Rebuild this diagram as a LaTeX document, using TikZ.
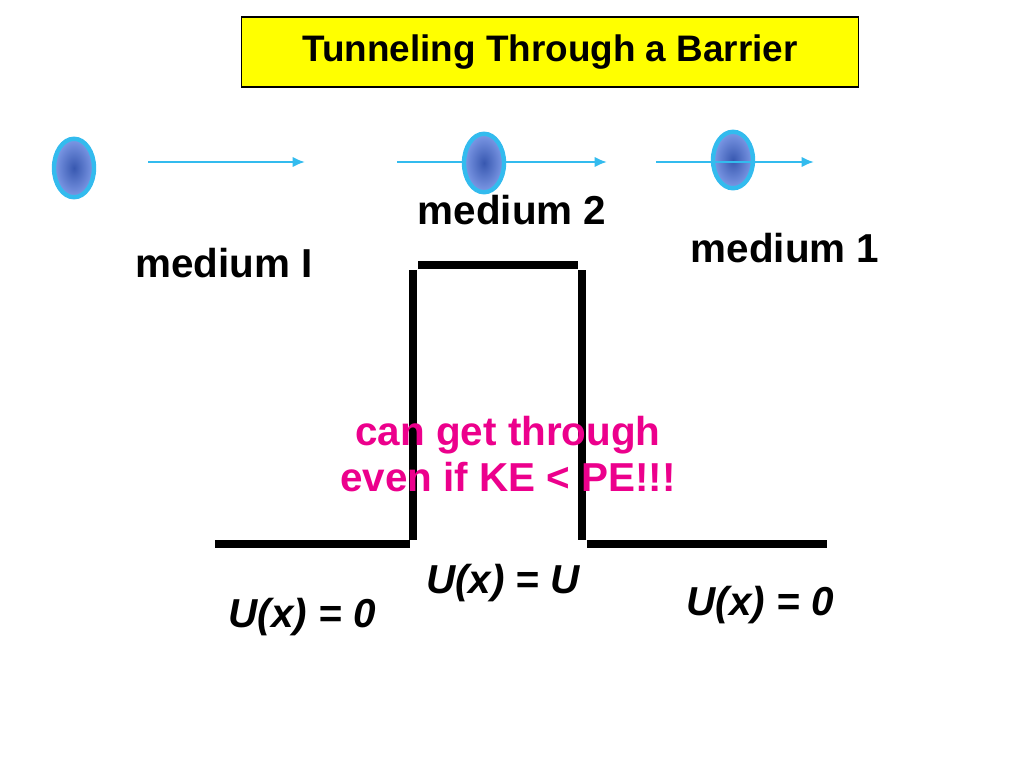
\documentclass[tikz,border=0pt]{standalone}
\usepackage{fontspec}
\setmainfont{Liberation Sans}
\usetikzlibrary{arrows.meta}
\definecolor{skyline}{RGB}{51,187,238}
\definecolor{ballblue}{RGB}{70,110,220}
\definecolor{titleyellow}{RGB}{255,255,0}
\tikzset{
  ball/.style={ellipse, minimum width=42\pxu, minimum height=60\pxu, draw=skyline, line width=2.5pt,
    inner color=ballblue!80!black, outer color=ballblue!70!white},
  motion/.style={draw=skyline, line width=1.6pt, -{Latex[length=7pt,width=6pt]}},
  wall/.style={line width=4.5pt, black},
  label/.style={font=\fontsize{23}{26}\selectfont\bfseries},
  potential/.style={font=\fontsize{23}{26}\selectfont\bfseries\itshape},
}
\newcommand{\pxu}{pt}
\usetikzlibrary{shapes.geometric}
\begin{document}
\begin{tikzpicture}[x=0.02cm, y=-0.02cm]
        \useasboundingbox (0,0) rectangle (1024,768);
        % title
        \node[draw=black, fill=titleyellow, line width=1pt, minimum width=617*0.02cm, minimum height=70*0.02cm,
          font=\fontsize{21}{24}\selectfont\bfseries] (title) at (550,52) {Tunneling Through a Barrier};
        % arrows and balls
        \coordinate (a1s) at (148,162); \coordinate (a1e) at (305,162);
        \coordinate (a2s) at (397,162); \coordinate (a2e) at (607,162);
        \coordinate (a3s) at (656,162); \coordinate (a3e) at (814,162);
        \draw[motion] (a1s) -- (a1e);
        \draw[motion] (a2s) -- (a2e);
        \node[ball, minimum width=0.8cm, minimum height=1.17cm] (ball1) at (74,168) {};
        \node[ball, minimum width=0.8cm, minimum height=1.17cm] (ball2) at (484,163) {};
        \node[ball, minimum width=0.8cm, minimum height=1.13cm] (ball3) at (733,160) {};
        \draw[motion] (a3s) -- (a3e);
        % medium labels
        \node[label] (medI) at (224,263) {medium I};
        \node[label] (med2) at (512,210) {medium 2};
        \node[label] (med1) at (785,248) {medium 1};
        % barrier
        \draw[wall] (215,544) -- (410,544);
        \draw[wall] (413,270) -- (413,540);
        \draw[wall] (418,265) -- (578,265);
        \draw[wall] (582,270) -- (582,540);
        \draw[wall] (587,544) -- (827,544);
        % note
        \node[font=\fontsize{23}{26}\selectfont\bfseries, text=magenta, align=center] (note) at (508,454)
          {can get through\\ even if KE {\normalfont\bfseries <} PE!!!};
        % potentials
        \node[potential] (uleft) at (302,617) {U(x) = 0};
        \node[potential] (umid) at (503,583) {U(x) = U};
        \node[potential] (uright) at (760,605) {U(x) = 0};
\end{tikzpicture}
\end{document}
